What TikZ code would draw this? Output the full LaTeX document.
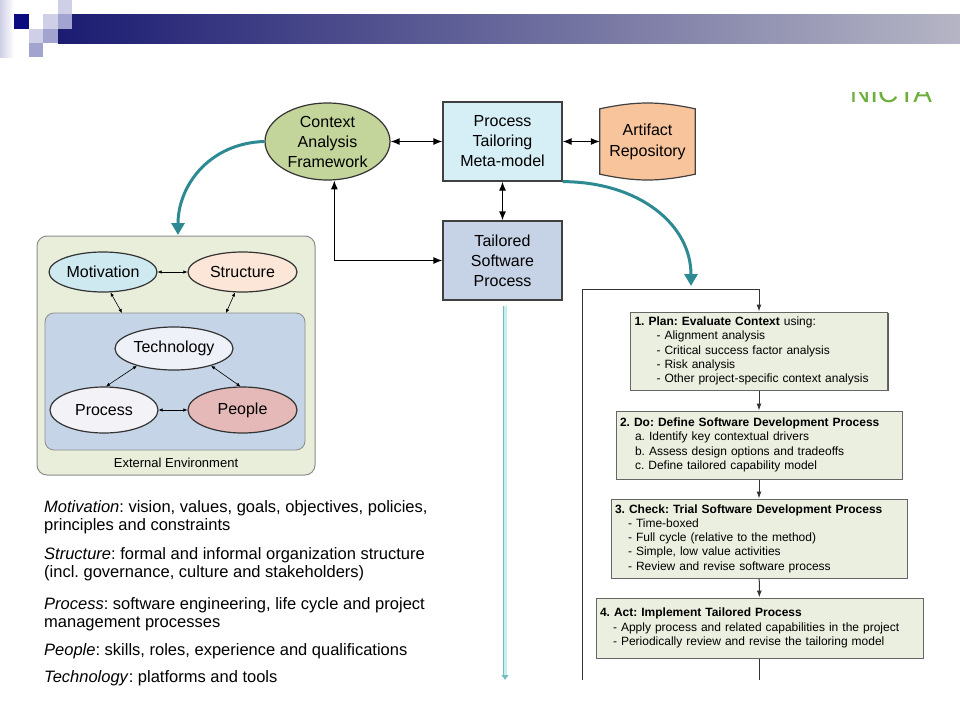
\documentclass[tikz,border=0pt]{standalone}
\usepackage{fontspec}
\setmainfont{Liberation Sans}
\usetikzlibrary{arrows.meta,positioning,shapes.geometric,shadows,backgrounds}
\definecolor{caffill}{HTML}{C3D59B}
\definecolor{ptmfill}{HTML}{D6EEF5}
\definecolor{tspfill}{HTML}{C6D3E7}
\definecolor{repofill}{HTML}{F8C49C}
\definecolor{envfill}{HTML}{E9EEDB}
\definecolor{corefill}{HTML}{C5D5E7}
\definecolor{motfill}{HTML}{CFE9F1}
\definecolor{strfill}{HTML}{FBE6D8}
\definecolor{tecfill}{HTML}{EEF1F8}
\definecolor{profill}{HTML}{F2F2F7}
\definecolor{peofill}{HTML}{E5B9B8}
\definecolor{stagefill}{HTML}{EBEFDF}
\definecolor{tealarr}{HTML}{2E8A92}
\definecolor{pipeout}{HTML}{72BDC1}
\definecolor{pipein}{HTML}{C8EEEE}
\definecolor{barleft}{HTML}{1B1B72}
\definecolor{barright}{HTML}{B5B5C5}
\definecolor{sqnavy}{HTML}{0B0B80}
\definecolor{sqlight}{HTML}{CFCFE7}
\definecolor{sqmid}{HTML}{A3A3CF}
\definecolor{nictagreen}{HTML}{6DAE3C}
\tikzset{%
   box/.style={rectangle, draw=black!75, line width=1.2pt, minimum width=119pt, minimum height=79pt,
     align=center, inner sep=0pt, font=\fontsize{16}{20}\selectfont},
   oval/.style={ellipse, draw=black!80, line width=1.2pt, inner sep=0pt, align=center,
     font=\fontsize{16}{20}\selectfont},
   both/.style={{Latex[length=9pt,width=7pt]}-{Latex[length=9pt,width=7pt]}, line width=1.2pt},
   small/.style={{Latex[length=4pt,width=3.5pt]}-{Latex[length=4pt,width=3.5pt]}, line width=0.6pt},
   swoop/.style={draw=tealarr, line width=3pt, -{Triangle[length=12pt,width=13pt]}},
   pipe/.style={draw=pipeout, double=pipein, double distance=3pt, line width=0.9pt,
     -{Latex[length=5pt,width=8pt]}},
   stage/.style={rectangle, draw=black!60, line width=1pt, fill=stagefill, align=left,
     inner xsep=4pt, inner ysep=0pt, font=\fontsize{12}{14.3}\selectfont,
     drop shadow={shadow xshift=1.2pt, shadow yshift=-1.2pt, fill=black!80, opacity=0.8}},
   flow/.style={line width=1pt, draw=black!80},
   link/.style={flow, -{Latex[length=7pt,width=5pt]}},
   deftext/.style={anchor=base west, align=left, inner sep=0pt, font=\fontsize{16.5}{18}\selectfont},
}
\begin{document}
\frenchspacing
\begin{tikzpicture}[x=1pt, y=-1pt]
   \useasboundingbox (0,0) rectangle (960,720);
   % header
   \shade[left color=sqlight, right color=white] (0,0) rectangle (14,57);
   \shade[left color=barleft, right color=barright] (58,14) rectangle (960,43);
   \fill[sqlight] (58,0) rectangle (72,14);
   \fill[sqnavy] (14,14) rectangle (29,29);
   \fill[sqlight] (43,14) rectangle (58,29);
   \fill[sqmid] (58,14) rectangle (72,29);
   \fill[sqlight] (29,29) rectangle (43,43);
   \fill[sqmid] (43,29) rectangle (58,43);
   \fill[sqmid] (29,43) rectangle (43,57);
   \begin{scope}
      \clip (840,92) rectangle (945,106);
      \node[anchor=base west, inner sep=0pt, text=nictagreen, font=\fontsize{28}{28}\selectfont] (nicta) at (850,102) {NICTA};
   \end{scope}

   % top row
   \node[oval, fill=caffill, minimum width=125pt, minimum height=77pt] (caf) at (327.5,141.5) {Context\\Analysis\\Framework};
   \node[box, fill=ptmfill] (ptm) at (502.5,141.5) {Process\\Tailoring\\Meta-model};
   \node[box, fill=tspfill] (tsp) at (502.5,260.5) {Tailored\\Software\\Process};
   \node[align=center, inner sep=0pt, minimum width=95pt, minimum height=65pt,
     font=\fontsize{16}{21}\selectfont] (repo) at (647.5,141.5) {Artifact\\Repository};
   \begin{scope}[on background layer]
      \draw[fill=repofill, draw=black!75, line width=1.2pt] (repo.north west) to[bend left=12] (repo.north east)
        -- (repo.south east) to[bend left=12] (repo.south west) -- cycle;
   \end{scope}
   \draw[both] (caf) -- (ptm);
   \draw[both] (ptm) -- (repo);
   \draw[both] (ptm) -- (tsp);
   \draw[both] (caf.-80) |- (tsp);

   % environment
   \node[rectangle, rounded corners=10pt, draw=black!45, line width=1pt, fill=envfill,
     minimum width=278pt, minimum height=239pt] (env) at (176,355.5) {};
   \node[inner sep=0pt, font=\fontsize{13}{15}\selectfont] (envlab) at (176,463) {External Environment};
   \node[rectangle, rounded corners=9pt, draw=black!45, line width=0.8pt, fill=corefill,
     minimum width=260pt, minimum height=137pt] (core) at (175,381.5) {};
   \node[oval, fill=motfill, minimum width=108pt, minimum height=40pt] (mot) at (103,272) {Motivation};
   \node[oval, fill=strfill, minimum width=109pt, minimum height=40pt] (str) at (242.5,272) {Structure};
   \node[oval, fill=tecfill, minimum width=118pt, minimum height=43pt] (tec) at (174,348.5) {Technology};
   \node[oval, fill=profill, minimum width=108pt, minimum height=46pt] (pro) at (104,410) {Process};
   \node[oval, fill=peofill, minimum width=109pt, minimum height=46pt] (peo) at (242.5,410) {People};
   \coordinate (inm) at (122,313);
   \coordinate (ins) at (226,313);
   \draw[small] (mot) -- (str);
   \draw[small] (mot.-70) -- (inm);
   \draw[small] (str.-110) -- (ins);
   \draw[small] (tec.205) -- (pro.85);
   \draw[small] (tec.-25) -- (peo.95);
   \draw[small] (pro) -- (peo);

   % curved arrows
   \coordinate (envin) at (178,235);
   \coordinate (flowin) at (691,286);
   \draw[swoop] (caf.west) .. controls (210,143) and (178,185) .. (envin);
   \draw[swoop] (ptm.south east) .. controls (640,182) and (691,225) .. (flowin);
   \coordinate (pipeend) at (505,680);
   \draw[pipe] ([xshift=2.5pt,yshift=-5pt]tsp.south) -- (pipeend);

   % definitions
   \node[deftext] (dmot) at (44,530) {\textit{Motivation}: vision, values, goals, objectives, policies,\\principles and constraints};
   \node[deftext] (dstr) at (44,577) {\textit{Structure}: formal and informal organization structure\\(incl. governance, culture and stakeholders)};
   \node[deftext] (dpro) at (44,627) {\textit{Process}: software engineering, life cycle and project\\management processes};
   \node[deftext] (dpeo) at (44,655) {\textit{People}: skills, roles, experience and qualifications};
   \node[deftext] (dtec) at (44,682) {\textit{Technology}: platforms and tools};

   % tailoring cycle
   \node[stage, text width=249pt, minimum height=78pt] (p1) at (759,351) {%
     \textbf{1. Plan: Evaluate Context} using:\\
     \hspace*{22pt}- Alignment analysis\\
     \hspace*{22pt}- Critical success factor analysis\\
     \hspace*{22pt}- Risk analysis\\
     \hspace*{22pt}- Other project-specific context analysis};
   \node[stage, text width=278pt, minimum height=68pt] (p2) at (759,445) {%
     \textbf{2. Do: Define Software Development Process}\\
     \hspace*{15pt}a. Identify key contextual drivers\\
     \hspace*{15pt}b. Assess design options and tradeoffs\\
     \hspace*{15pt}c. Define tailored capability model};
   \node[stage, text width=288pt, minimum height=79pt] (p3) at (759,538.5) {%
     \textbf{3. Check: Trial Software Development Process}\\
     \hspace*{13pt}- Time-boxed\\
     \hspace*{13pt}- Full cycle (relative to the method)\\
     \hspace*{13pt}- Simple, low value activities\\
     \hspace*{13pt}- Review and revise software process};
   \node[stage, text width=319pt, minimum height=60pt] (p4) at (759.5,628) {%
     \textbf{4. Act: Implement Tailored Process}\\
     \hspace*{13pt}- Apply process and related capabilities in the project\\
     \hspace*{13pt}- Periodically review and revise the tailoring model};
   \coordinate (loopend) at (582,680);
   \coordinate (p4end) at (759.5,680);
   \draw[link] (loopend) |- ([yshift=22pt]p1.north) -- (p1.north);
   \draw[link] (p1) -- (p2);
   \draw[link] (p2) -- (p3);
   \draw[link] (p3) -- (p4);
   \draw[flow] (p4) -- (p4end);
\end{tikzpicture}
\end{document}
